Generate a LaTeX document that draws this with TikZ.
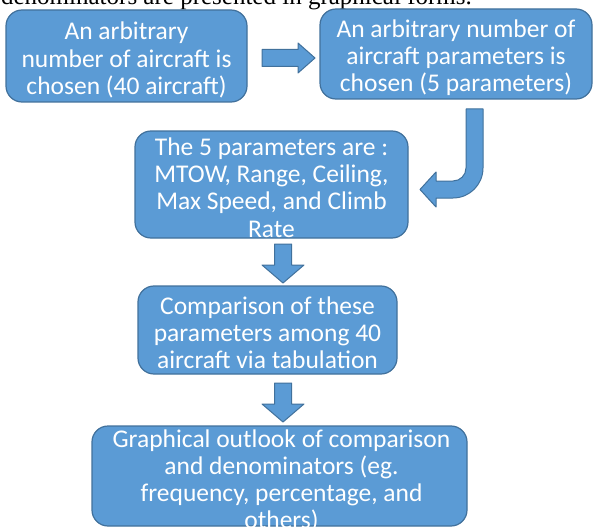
\documentclass[tikz,border=0pt]{standalone}
\usepackage{fontspec}
\setmainfont{Carlito}
\newfontfamily\serifx{Liberation Serif}
\usetikzlibrary{calc}
\definecolor{boxfill}{HTML}{5B9BD5}
\definecolor{boxline}{HTML}{41719C}
\begin{document}
\begin{tikzpicture}[x=1pt,y=-1pt,
  box/.style={draw=boxline, fill=boxfill, line width=1.2pt, rounded corners=16pt, inner sep=0pt},
  txt/.style={text=white, align=center, font=\fontsize{25.5}{27.2}\selectfont, inner sep=0pt, yshift=-3pt},
  blk/.style={draw=boxline, fill=boxfill, line width=1pt, line join=round}]
\useasboundingbox (0,0) rectangle (595,527);
\fill[white] (0,0) rectangle (595,527);

\begin{scope}
\clip (0,0) rectangle (595,527);
\node[anchor=base east, font=\serifx\fontsize{25}{28}\selectfont, inner sep=0pt] (hdr) at (472,4.5) {denominators are presented in graphical forms.};
\end{scope}

\node[box, minimum width=241pt, minimum height=92pt] (b1) at (126.5,56) {};
\node[txt, yshift=-1pt] (t1) at (b1) {An arbitrary\\number of aircraft is\\chosen (40 aircraft)};

\node[box, minimum width=272pt, minimum height=90pt] (b2) at (456,54) {};
\node[txt, yshift=-1pt] (t2) at (b2) {An arbitrary number of\\aircraft parameters is\\chosen (5 parameters)};

\node[box, minimum width=273pt, minimum height=107pt] (b3) at (271.5,184.5) {};
\node[txt] (t3) at (b3) {The 5 parameters are :\\MTOW, Range, Ceiling,\\Max Speed, and Climb\\Rate};

\node[box, minimum width=259pt, minimum height=88pt] (b4) at (267.5,330) {};
\node[txt] (t4) at (b4) {Comparison of these\\parameters among 40\\aircraft via tabulation};

\node[box, minimum width=375pt, minimum height=100pt] (b5) at (279.5,476) {};
\node[txt] (t5) at (281.5,478) {Graphical outlook of comparison\\and denominators (eg.\\frequency, percentage, and\\others)};

% right block arrow b1 -> b2
\draw[blk] (262,49.5) -- (298,49.5) -- (298,43) -- (315,58) -- (298,73) -- (298,66.5) -- (262,66.5) -- cycle;

% J-shaped arrow b2 -> b3
\draw[blk] (466,109) -- (483,109) -- (483,168)
  .. controls (483,184.6) and (469.6,198) .. (453,198)
  -- (436,198) -- (436,207) -- (420,189.5) -- (436,172) -- (436,181) -- (453,181)
  .. controls (460.2,181) and (466,175.2) .. (466,168) -- cycle;

% down arrow b3 -> b4
\draw[blk] (274.5,244) -- (291.5,244) -- (291.5,265) -- (304,265) -- (283,283) -- (262,265) -- (274.5,265) -- cycle;

% down arrow b4 -> b5
\draw[blk] (274.5,383) -- (291.5,383) -- (291.5,404) -- (304,404) -- (283,422) -- (262,404) -- (274.5,404) -- cycle;
\end{tikzpicture}
\end{document}
